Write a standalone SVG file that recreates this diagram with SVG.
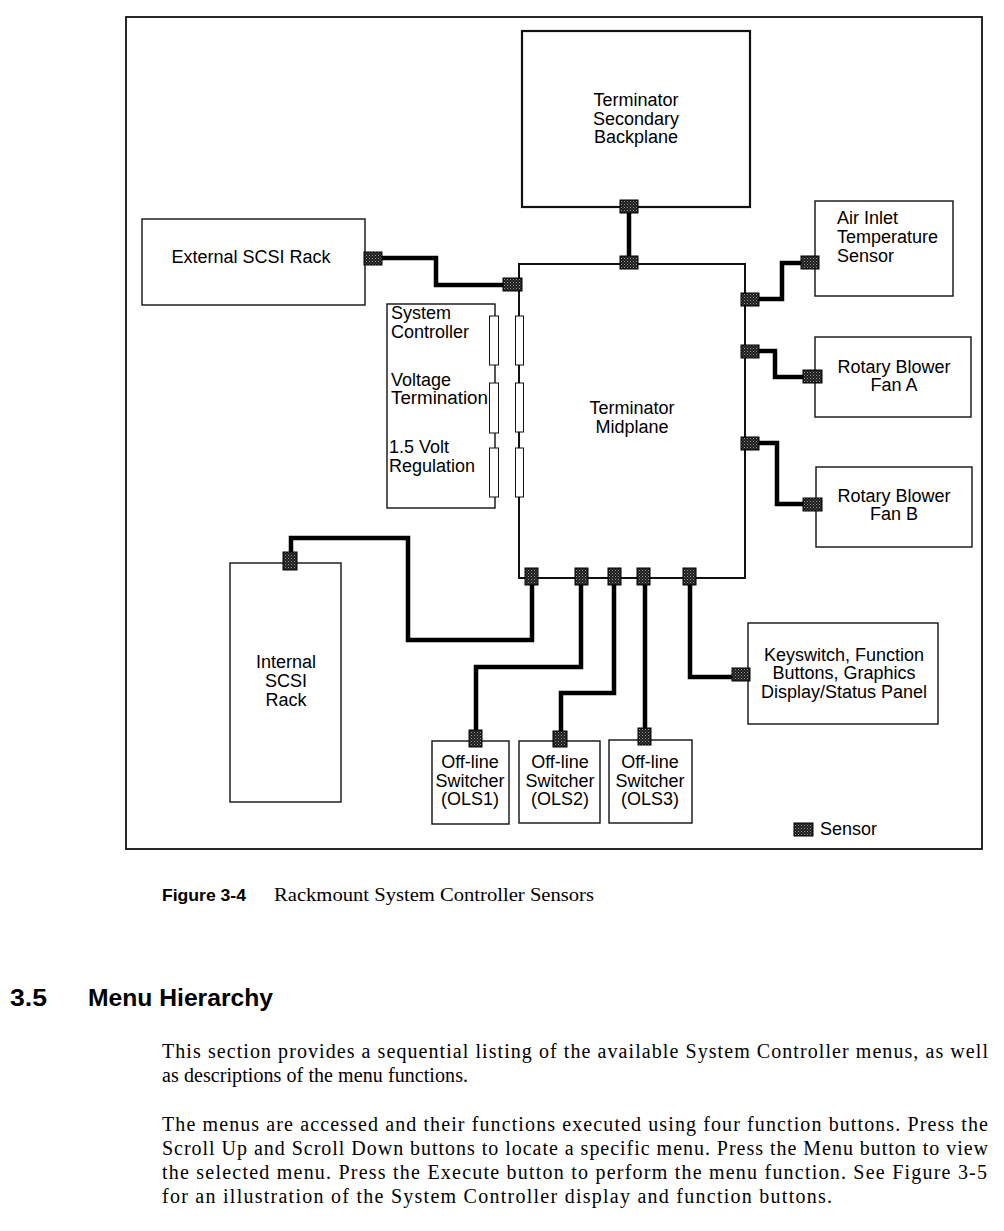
<svg xmlns="http://www.w3.org/2000/svg" width="1004" height="1231" viewBox="0 0 1004 1231">
<defs>
<pattern id="dots" width="3" height="3" patternUnits="userSpaceOnUse">
<rect width="3" height="3" fill="#1a1a1a"/>
<rect x="0" y="0" width="1" height="1" fill="#9a9a9a"/>
<rect x="1.5" y="1.5" width="1" height="1" fill="#7a7a7a"/>
</pattern>
<style>
.box{fill:#fff;stroke:#111;stroke-width:1.4}
.bold{fill:#fff;stroke:#111;stroke-width:2.2}
.sen{fill:url(#dots);stroke:#000;stroke-width:1}
.res{fill:#fff;stroke:#111;stroke-width:1}
.wire{fill:none;stroke:#000;stroke-width:4.5;stroke-linejoin:miter}
.t{font-family:"Liberation Sans",Arial,sans-serif;font-size:18px;fill:#000}
.c{text-anchor:middle}
.serif{font-family:"Liberation Serif","Times New Roman",serif;font-size:20px;fill:#000}
.hb{font-family:"Liberation Sans",Arial,sans-serif;font-weight:bold;fill:#000}
</style>
</defs>
<rect width="1004" height="1231" fill="#fff"/>
<rect x="126" y="17" width="856" height="832" fill="none" stroke="#111" stroke-width="1.8"/>

<g id="connectors">
<path class="wire" d="M629,213 V256"/>
<path class="wire" d="M382,258 H436 V285 H503"/>
<path class="wire" d="M759,299 H782 V263 H801"/>
<path class="wire" d="M759,351 H775 V377 H803"/>
<path class="wire" d="M759,443 H777 V504 H803"/>
<path class="wire" d="M532,585 V640 H408 V538 H291 V552"/>
<path class="wire" d="M581,585 V667 H476 V730"/>
<path class="wire" d="M614,585 V693 H561 V731"/>
<path class="wire" d="M645,585 V728"/>
<path class="wire" d="M690,585 V677 H732"/>
</g>

<g id="backplane">
<rect class="bold" x="522" y="31" width="228" height="176"/>
<text class="t c" x="636" y="106">Terminator</text>
<text class="t c" x="636" y="125">Secondary</text>
<text class="t c" x="636" y="143">Backplane</text>
<rect class="sen" x="620" y="200" width="18" height="13"/>
</g>

<g id="midplane">
<rect class="box" x="519" y="264" width="226" height="314" style="stroke-width:2"/>
<text class="t c" x="632" y="414">Terminator</text>
<text class="t c" x="632" y="433">Midplane</text>
<rect class="res" x="515.5" y="316" width="8" height="49"/>
<rect class="res" x="515.5" y="383" width="8" height="49"/>
<rect class="res" x="515.5" y="448" width="8" height="49"/>
<rect class="sen" x="620" y="256" width="18" height="13"/>
<rect class="sen" x="503" y="278" width="19" height="13"/>
<rect class="sen" x="741" y="293" width="18" height="13"/>
<rect class="sen" x="741" y="345" width="18" height="13"/>
<rect class="sen" x="741" y="437" width="18" height="13"/>
<rect class="sen" x="525" y="568" width="13" height="17"/>
<rect class="sen" x="575" y="568" width="13" height="17"/>
<rect class="sen" x="608" y="568" width="13" height="17"/>
<rect class="sen" x="637" y="568" width="13" height="17"/>
<rect class="sen" x="683" y="568" width="13" height="17"/>
</g>

<g id="external-scsi">
<rect class="box" x="142" y="219" width="223" height="86"/>
<text class="t c" x="251" y="263">External SCSI Rack</text>
<rect class="sen" x="364" y="252" width="18" height="13"/>
</g>

<g id="system-controller">
<rect class="box" x="387" y="304" width="108" height="204"/>
<text class="t" x="391" y="319">System</text>
<text class="t" x="391" y="338">Controller</text>
<text class="t" x="391" y="386">Voltage</text>
<text class="t" x="391" y="404" textLength="97" lengthAdjust="spacingAndGlyphs">Termination</text>
<text class="t" x="389" y="453">1.5 Volt</text>
<text class="t" x="389" y="472">Regulation</text>
<rect class="res" x="489.5" y="316" width="9" height="49"/>
<rect class="res" x="489.5" y="383" width="9" height="50"/>
<rect class="res" x="489.5" y="448" width="9" height="49"/>
</g>

<g id="air-inlet">
<rect class="box" x="815" y="201" width="138" height="95"/>
<text class="t" x="837" y="224">Air Inlet</text>
<text class="t" x="837" y="243">Temperature</text>
<text class="t" x="837" y="262">Sensor</text>
<rect class="sen" x="801" y="256" width="18" height="13"/>
</g>

<g id="fan-a">
<rect class="box" x="815" y="337" width="156" height="80"/>
<text class="t c" x="894" y="373">Rotary Blower</text>
<text class="t c" x="894" y="391">Fan A</text>
<rect class="sen" x="803" y="370" width="19" height="13"/>
</g>

<g id="fan-b">
<rect class="box" x="816" y="467" width="156" height="80"/>
<text class="t c" x="894" y="502">Rotary Blower</text>
<text class="t c" x="894" y="520">Fan B</text>
<rect class="sen" x="803" y="498" width="19" height="13"/>
</g>

<g id="internal-scsi">
<rect class="box" x="230" y="563" width="111" height="239"/>
<text class="t c" x="286" y="668">Internal</text>
<text class="t c" x="286" y="687">SCSI</text>
<text class="t c" x="286" y="706">Rack</text>
<rect class="sen" x="283" y="552" width="14" height="18"/>
</g>

<g id="ols1">
<rect class="box" x="432" y="741" width="77" height="83"/>
<text class="t c" x="470" y="768">Off-line</text>
<text class="t c" x="470" y="787">Switcher</text>
<text class="t c" x="470" y="805">(OLS1)</text>
<rect class="sen" x="469" y="730" width="13" height="17"/>
</g>

<g id="ols2">
<rect class="box" x="519" y="741" width="81" height="82"/>
<text class="t c" x="560" y="768">Off-line</text>
<text class="t c" x="560" y="787">Switcher</text>
<text class="t c" x="560" y="805">(OLS2)</text>
<rect class="sen" x="553" y="731" width="14" height="16"/>
</g>

<g id="ols3">
<rect class="box" x="609" y="740" width="83" height="83"/>
<text class="t c" x="650" y="768">Off-line</text>
<text class="t c" x="650" y="787">Switcher</text>
<text class="t c" x="650" y="805">(OLS3)</text>
<rect class="sen" x="638" y="728" width="13" height="17"/>
</g>

<g id="keyswitch">
<rect class="box" x="748" y="623" width="190" height="101"/>
<text class="t c" x="844" y="661">Keyswitch, Function</text>
<text class="t c" x="844" y="679">Buttons, Graphics</text>
<text class="t c" x="844" y="698">Display/Status Panel</text>
<rect class="sen" x="732" y="668" width="18" height="13"/>
</g>

<g id="legend">
<rect class="sen" x="794" y="823" width="19" height="13"/>
<text class="t" x="820" y="835">Sensor</text>
</g>

<g id="caption">
<text class="hb" x="162" y="901" font-size="17" textLength="84" lengthAdjust="spacingAndGlyphs">Figure 3-4</text>
<text class="serif" x="274" y="901" style="font-size:18px" textLength="320" lengthAdjust="spacingAndGlyphs">Rackmount System Controller Sensors</text>
</g>

<g id="section">
<text class="hb" x="10" y="1006" font-size="24" textLength="37" lengthAdjust="spacingAndGlyphs">3.5</text>
<text class="hb" x="88" y="1006" font-size="24" textLength="185" lengthAdjust="spacingAndGlyphs">Menu Hierarchy</text>
<text class="serif" x="162" y="1058" textLength="826" lengthAdjust="spacing">This section provides a sequential listing of the available System Controller menus, as well</text>
<text class="serif" x="162" y="1082" textLength="306" lengthAdjust="spacing">as descriptions of the menu functions.</text>
<text class="serif" x="162" y="1131" textLength="826" lengthAdjust="spacing">The menus are accessed and their functions executed using four function buttons. Press the</text>
<text class="serif" x="162" y="1155" textLength="826" lengthAdjust="spacing">Scroll Up and Scroll Down buttons to locate a specific menu. Press the Menu button to view</text>
<text class="serif" x="162" y="1179" textLength="825" lengthAdjust="spacing">the selected menu. Press the Execute button to perform the menu function. See Figure 3-5</text>
<text class="serif" x="162" y="1203" textLength="670" lengthAdjust="spacing">for an illustration of the System Controller display and function buttons.</text>
</g>
</svg>
